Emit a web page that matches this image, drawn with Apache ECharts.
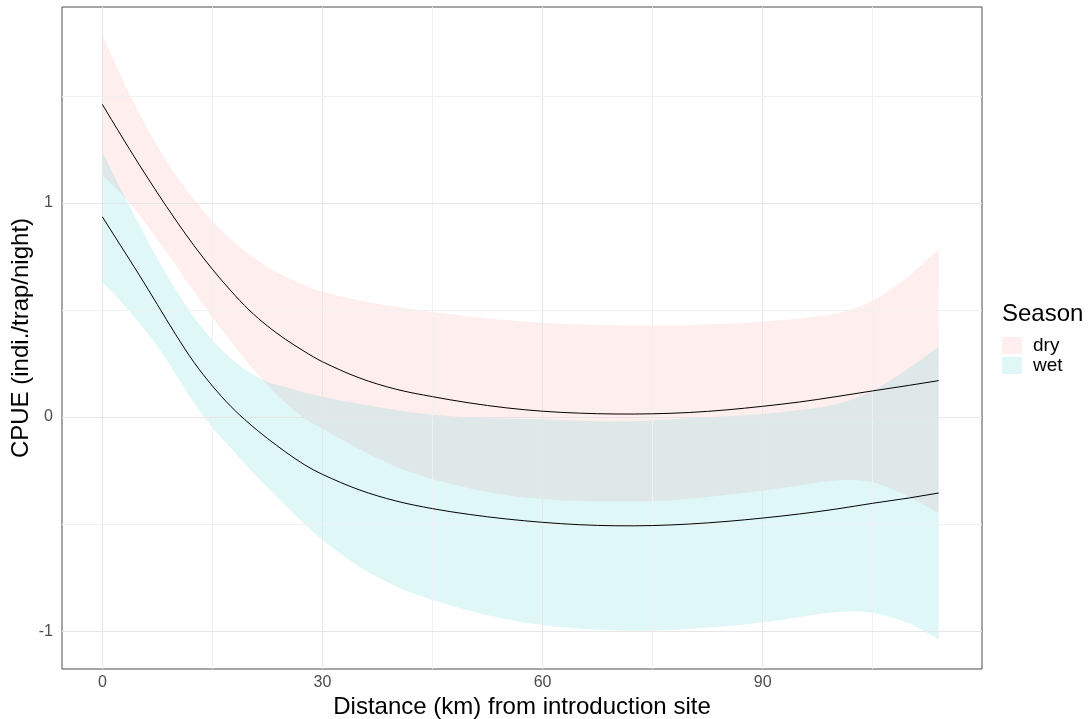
<!DOCTYPE html>
<html>
<head>
<meta charset="utf-8">
<script src="https://cdn.jsdelivr.net/npm/echarts@6/dist/echarts.min.js"></script>
<style>
html,body{margin:0;padding:0;background:#ffffff;}
#chart{width:1092px;height:719px;}
</style>
</head>
<body>
<div id="chart"></div>
<script>
// ---- data ----
const xs      = [0, 2.5, 5, 7.5, 10, 12.5, 15, 17.5, 20, 22.5, 25, 27.5, 30, 35, 40, 45, 50, 55, 60, 65, 70, 75, 80, 85, 90, 95, 100, 105, 110, 114];
const dryFit  = [1.46, 1.318, 1.18, 1.047, 0.92, 0.80, 0.69, 0.59, 0.50, 0.425, 0.362, 0.307, 0.258, 0.183, 0.13, 0.095, 0.066, 0.043, 0.027, 0.018, 0.014, 0.015, 0.021, 0.033, 0.05, 0.07, 0.095, 0.122, 0.148, 0.17];
const dryHi   = [1.785, 1.595, 1.42, 1.265, 1.13, 1.015, 0.915, 0.83, 0.76, 0.702, 0.655, 0.617, 0.585, 0.545, 0.515, 0.49, 0.47, 0.453, 0.44, 0.432, 0.428, 0.427, 0.429, 0.435, 0.445, 0.46, 0.483, 0.543, 0.66, 0.785];
const dryLo   = [1.13, 1.045, 0.945, 0.83, 0.71, 0.585, 0.465, 0.355, 0.245, 0.15, 0.065, -0.005, -0.055, -0.15, -0.232, -0.29, -0.333, -0.365, -0.383, -0.392, -0.395, -0.393, -0.382, -0.364, -0.344, -0.32, -0.296, -0.305, -0.375, -0.45];
const wetFit  = [0.935, 0.80, 0.665, 0.525, 0.385, 0.255, 0.145, 0.05, -0.03, -0.10, -0.164, -0.222, -0.268, -0.34, -0.392, -0.428, -0.455, -0.476, -0.492, -0.503, -0.508, -0.507, -0.5, -0.488, -0.472, -0.453, -0.43, -0.403, -0.378, -0.355];
const wetHi   = [1.24, 1.065, 0.90, 0.74, 0.595, 0.465, 0.36, 0.275, 0.21, 0.165, 0.14, 0.115, 0.095, 0.062, 0.033, 0.01, -0.002, -0.008, -0.011, -0.018, -0.021, -0.016, -0.006, 0.004, 0.014, 0.033, 0.06, 0.123, 0.23, 0.328];
const wetLo   = [0.632, 0.54, 0.44, 0.33, 0.20, 0.065, -0.05, -0.145, -0.24, -0.328, -0.415, -0.498, -0.575, -0.70, -0.79, -0.855, -0.905, -0.945, -0.972, -0.988, -0.997, -0.998, -0.99, -0.977, -0.96, -0.935, -0.912, -0.915, -0.965, -1.04];
const seasons = ['dry', 'wet'];
const xTicks  = [0, 30, 60, 90];
const yTicks  = [-1, 0, 1];
const xMinor  = [15, 45, 75, 105];
const yMinor  = [-0.5, 0.5, 1.5];

// ---- styles ----
const FONT = '"Liberation Sans", Arial, sans-serif';
const DRY_FILL = 'rgba(248,118,109,0.12)';
const WET_FILL = 'rgba(0,191,196,0.12)';

function bandRows(lo, hi) { return xs.map((x, i) => [x, lo[i], hi[i]]); }
function pairs(ys) { return xs.map((x, i) => [x, ys[i]]); }

// cubic Hermite segments through pixel points (rendering only; passes through every point)
function curveThrough(pts) {
  const n = pts.length;
  const m = [];
  for (let i = 0; i < n; i++) {
    const a = pts[Math.max(0, i - 1)], b = pts[Math.min(n - 1, i + 1)];
    m.push((b[1] - a[1]) / (b[0] - a[0]));
  }
  let d = '';
  for (let i = 0; i < n - 1; i++) {
    const p1 = pts[i], p2 = pts[i + 1];
    const h = (p2[0] - p1[0]) / 3;
    const c1x = p1[0] + h, c1y = p1[1] + m[i] * h;
    const c2x = p2[0] - h, c2y = p2[1] - m[i + 1] * h;
    d += ' C' + c1x.toFixed(2) + ' ' + c1y.toFixed(2) + ' ' + c2x.toFixed(2) + ' ' + c2y.toFixed(2) + ' ' + p2[0].toFixed(2) + ' ' + p2[1].toFixed(2);
  }
  return d;
}

function ribbonRender(params, api) {
  if (params.dataIndex !== 0) return null;
  const upper = [], lower = [];
  for (let i = 0; i < xs.length; i++) {
    upper.push(api.coord([api.value(0, i), api.value(2, i)]));
    lower.push(api.coord([api.value(0, i), api.value(1, i)]));
  }
  lower.reverse();
  let d = 'M' + upper[0][0].toFixed(2) + ' ' + upper[0][1].toFixed(2);
  d += curveThrough(upper);
  d += ' L' + lower[0][0].toFixed(2) + ' ' + lower[0][1].toFixed(2);
  d += curveThrough(lower);
  d += ' Z';
  return { type: 'path', shape: { pathData: d }, style: { fill: api.visual('color'), stroke: null } };
}

function lineRender(params, api) {
  if (params.dataIndex !== 0) return null;
  const pts = [];
  for (let i = 0; i < xs.length; i++) pts.push(api.coord([api.value(0, i), api.value(1, i)]));
  const d = 'M' + pts[0][0].toFixed(2) + ' ' + pts[0][1].toFixed(2) + curveThrough(pts);
  return { type: 'path', shape: { pathData: d }, style: { fill: null, stroke: '#000000', lineWidth: 1 } };
}

function ribbonSeries(name, lo, hi, fill, z) {
  return {
    name: name, type: 'custom', coordinateSystem: 'cartesian2d',
    data: bandRows(lo, hi), encode: { x: 0, y: [1, 2] },
    itemStyle: { color: fill }, renderItem: ribbonRender, z: z, silent: true
  };
}
function fitSeries(name, ys) {
  return {
    name: name, type: 'custom', coordinateSystem: 'cartesian2d',
    data: pairs(ys), encode: { x: 0, y: 1 },
    itemStyle: { color: '#000000' }, renderItem: lineRender, z: 6, silent: true
  };
}

const gridLines = []
  .concat(xTicks.map(v => ({ xAxis: v, lineStyle: { color: '#e6e6e6', width: 1, type: 'solid' } })))
  .concat(xMinor.map(v => ({ xAxis: v, lineStyle: { color: '#f1f1f1', width: 1, type: 'solid' } })))
  .concat(yTicks.map(v => ({ yAxis: v, lineStyle: { color: '#e6e6e6', width: 1, type: 'solid' } })))
  .concat(yMinor.map(v => ({ yAxis: v, lineStyle: { color: '#f1f1f1', width: 1, type: 'solid' } })));

const chart = echarts.init(document.getElementById('chart'), null, { renderer: 'canvas' });
chart.setOption({
  animation: false,
  backgroundColor: '#ffffff',
  textStyle: { fontFamily: FONT },
  title: {
    text: 'Season', left: 1002, top: 302, padding: 0,
    textStyle: { fontSize: 24, fontWeight: 'normal', color: '#000000', fontFamily: FONT }
  },
  legend: {
    orient: 'vertical', left: 1002, top: 336, padding: 0,
    itemWidth: 20, itemHeight: 17, itemGap: 1, icon: 'rect', selectedMode: false,
    data: [
      { name: seasons[0], itemStyle: { color: DRY_FILL, borderWidth: 0 } },
      { name: seasons[1], itemStyle: { color: WET_FILL, borderWidth: 0 } }
    ],
    textStyle: { fontSize: 19, color: '#000000', fontFamily: FONT, padding: [0, 0, 0, 6] }
  },
  grid: {
    left: 62, right: 110, top: 7, bottom: 50,
    outerBoundsMode: 'none', containLabel: false,
    show: true, borderColor: '#4d4d4d', borderWidth: 1, backgroundColor: 'transparent'
  },
  xAxis: {
    type: 'value', min: -5.5, max: 119.9,
    axisLine: { show: false },
    axisTick: { show: true, customValues: xTicks, length: 4, lineStyle: { color: '#333333' } },
    axisLabel: { customValues: xTicks, color: '#4d4d4d', fontSize: 16, margin: 6, fontFamily: FONT },
    splitLine: { show: false },
    name: 'Distance (km) from introduction site', nameLocation: 'middle', nameGap: 26, nameMoveOverlap: false,
    nameTextStyle: { fontSize: 24, color: '#000000', fontFamily: FONT }
  },
  yAxis: {
    type: 'value', min: -1.177, max: 1.915,
    axisLine: { show: false },
    axisTick: { show: true, customValues: yTicks, length: 4, lineStyle: { color: '#333333' } },
    axisLabel: { customValues: yTicks, color: '#4d4d4d', fontSize: 16, margin: 9, fontFamily: FONT },
    splitLine: { show: false },
    name: 'CPUE (indi./trap/night)', nameLocation: 'middle', nameGap: 29, nameMoveOverlap: false,
    nameTextStyle: { fontSize: 24, color: '#000000', fontFamily: FONT }
  },
  series: [
    {
      name: 'gridlines', type: 'line', data: [], z: 0, silent: true,
      markLine: { silent: true, symbol: ['none', 'none'], label: { show: false }, animation: false, data: gridLines }
    },
    ribbonSeries(seasons[0], dryLo, dryHi, DRY_FILL, 2),
    ribbonSeries(seasons[1], wetLo, wetHi, WET_FILL, 3),
    fitSeries('dry fit', dryFit),
    fitSeries('wet fit', wetFit)
  ]
});
</script>
</body>
</html>
